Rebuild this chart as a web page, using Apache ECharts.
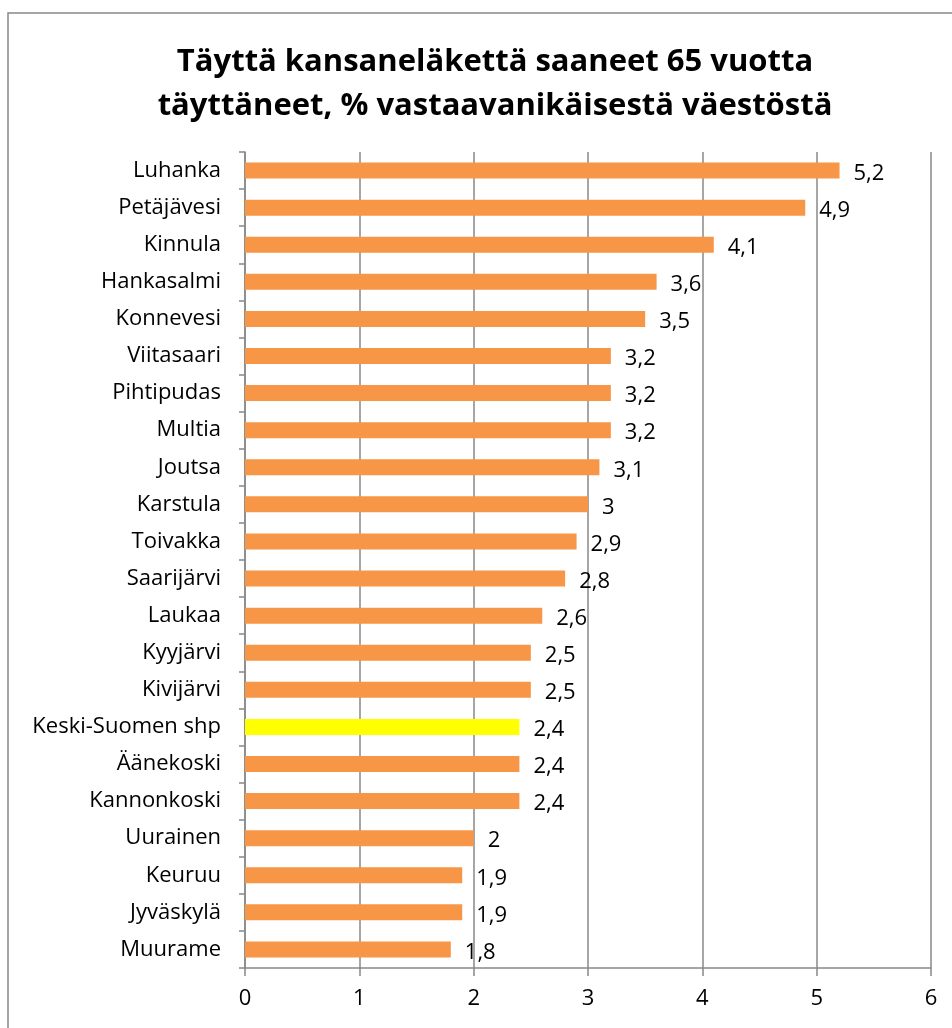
<!DOCTYPE html>
<html>
<head>
<meta charset="utf-8">
<script src="https://cdn.jsdelivr.net/npm/echarts@6/dist/echarts.min.js"></script>
<style>
  html, body { margin: 0; padding: 0; background: #fff; }
  #chart { width: 952px; height: 1028px; }
</style>
</head>
<body>
<div id="chart"></div>
<script>
// kunnat ylhäältä alas
var municipalities = ['Luhanka', 'Petäjävesi', 'Kinnula', 'Hankasalmi', 'Konnevesi', 'Viitasaari',
    'Pihtipudas', 'Multia', 'Joutsa', 'Karstula', 'Toivakka', 'Saarijärvi', 'Laukaa', 'Kyyjärvi',
    'Kivijärvi', 'Keski-Suomen shp', 'Äänekoski', 'Kannonkoski', 'Uurainen', 'Keuruu', 'Jyväskylä', 'Muurame'];
var shares = [5.2, 4.9, 4.1, 3.6, 3.5, 3.2, 3.2, 3.2, 3.1, 3, 2.9, 2.8, 2.6, 2.5, 2.5, 2.4, 2.4, 2.4, 2, 1.9, 1.9, 1.8];
var highlighted = 'Keski-Suomen shp';
var xTicks = [0, 1, 2, 3, 4, 5, 6];

var font = '"Open Sans", "Noto Sans", sans-serif';
var chart = echarts.init(document.getElementById('chart'));

var barData = shares.map(function(v, i) {
    return {
        value: v,
        itemStyle: { color: municipalities[i] === highlighted ? '#ffff00' : '#f79646' }
    };
});

chart.setOption({
    animation: false,
    title: {
        text: 'Täyttä kansaneläkettä saaneet 65 vuotta\ntäyttäneet, % vastaavanikäisestä väestöstä',
        left: 490,
        top: 35,
        textAlign: 'center',
        textStyle: {
            fontFamily: font,
            fontSize: 31,
            fontWeight: 'bold',
            color: '#000',
            lineHeight: 44
        }
    },
    graphic: [{
        type: 'rect',
        shape: { x: 8, y: 13, width: 1000, height: 1100 },
        style: { fill: 'none', stroke: '#888', lineWidth: 1.5 },
        silent: true
    }],
    grid: { left: 245, right: 21, top: 152, bottom: 60 },
    xAxis: {
        type: 'value',
        min: 0,
        max: 6,
        interval: 1,
        axisLine: { show: true, lineStyle: { color: '#888', width: 1.5 } },
        axisTick: { show: true, length: 8, lineStyle: { color: '#888', width: 1.5 } },
        splitLine: { show: true, lineStyle: { color: '#888', width: 1.5 } },
        axisLabel: {
            margin: 20,
            fontFamily: font,
            fontSize: 22,
            color: '#000',
            formatter: function(v) { return xTicks.indexOf(v) >= 0 ? String(v) : ''; }
        }
    },
    yAxis: {
        type: 'category',
        inverse: true,
        data: municipalities,
        axisLine: { show: true, lineStyle: { color: '#888', width: 1.5 } },
        axisTick: { show: true, length: 6, lineStyle: { color: '#888', width: 1.5 } },
        axisLabel: {
            margin: 24,
            fontFamily: font,
            fontSize: 22,
            color: '#000'
        }
    },
    series: [{
        type: 'bar',
        data: barData,
        barWidth: 16,
        label: {
            show: true,
            position: 'right',
            distance: 14,
            offset: [0, 3],
            fontFamily: font,
            fontSize: 22,
            color: '#000',
            formatter: function(p) { return String(p.value).replace('.', ','); }
        }
    }]
});
</script>
</body>
</html>
